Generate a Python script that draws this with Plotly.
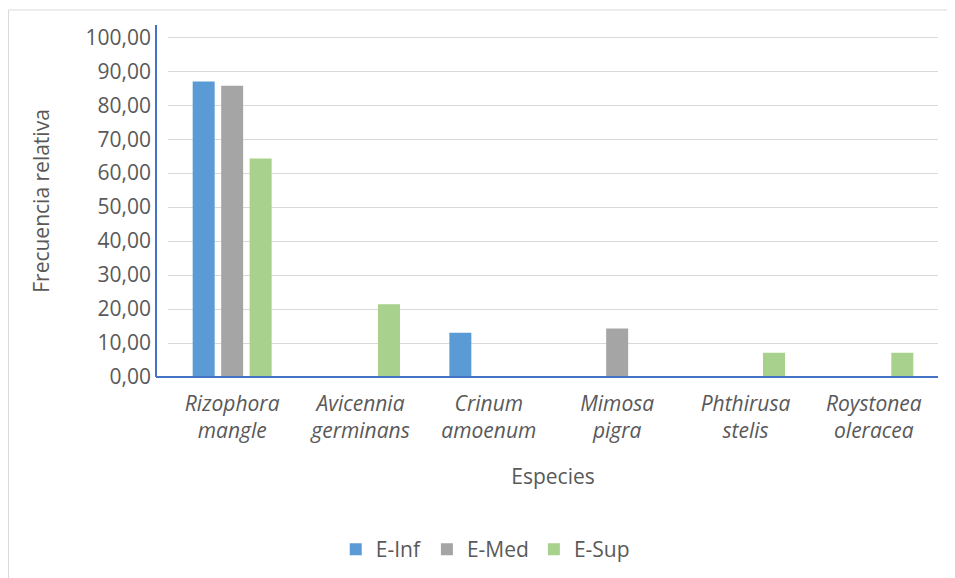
import plotly.graph_objects as go

species = ["Rizophora mangle", "Avicennia germinans", "Crinum amoenum",
           "Mimosa pigra", "Phthirusa stelis", "Roystonea oleracea"]
e_inf = [86.96, 0, 13.04, 0, 0, 0]
e_med = [85.71, 0, 0, 14.29, 0, 0]
e_sup = [64.29, 21.43, 0, 0, 7.14, 7.14]
y_ticks = [0, 10, 20, 30, 40, 50, 60, 70, 80, 90, 100]

labels = ["<i>" + s.replace(" ", "<br>") + "</i>" for s in species]

fig = go.Figure()
for name, vals, color in [("E-Inf", e_inf, "#5B9BD5"),
                          ("E-Med", e_med, "#A5A5A5"),
                          ("E-Sup", e_sup, "#A9D18E")]:
    fig.add_trace(go.Bar(x=labels, y=vals, name=name, marker_color=color,
                         marker_line_width=0))

font = "Open Sans, Calibri, sans-serif"
grey = "#595959"
axis_blue = "#4472C4"
off = -12 / 770  # axis lines sit a little left of the gridlines
# page body has an 8px margin, so the figure is sized to fit the window
fig.update_layout(
    width=947, height=570,
    barmode="group", bargap=0.334, bargroupgap=0.228,
    separators=",.",
    plot_bgcolor="white", paper_bgcolor="white",
    font=dict(family=font, color=grey, size=21),
    margin=dict(l=160, r=17, t=17, b=201, autoexpand=False),
    legend=dict(orientation="h", x=0.412, xanchor="center", y=-0.49, yanchor="middle",
                font=dict(size=21, color=grey), traceorder="normal",
                itemwidth=30),
    xaxis=dict(
        showline=False, ticks="", ticklabelstandoff=12,
        tickfont=dict(size=21, color=grey),
        title=dict(text="Especies", font=dict(size=21, color=grey), standoff=26),
    ),
    yaxis=dict(
        range=[0, 103.6], tickvals=y_ticks, tickformat=".2f",
        showline=False, ticklabelstandoff=16,
        showgrid=True, gridcolor="#D9D9D9", gridwidth=1, zeroline=False,
        tickfont=dict(size=21, color=grey), ticks="",
        title=dict(text="Frecuencia relativa", font=dict(size=21, color=grey), standoff=30),
    ),
    shapes=[
        dict(type="rect", xref="paper", yref="paper",
             x0=-0.2071, x1=1.1, y0=-0.7, y1=1.0426,
             line=dict(color="#D9D9D9", width=1), fillcolor="rgba(0,0,0,0)",
             layer="below"),
        dict(type="line", xref="paper", yref="paper", x0=off, x1=off, y0=0, y1=1,
             line=dict(color=axis_blue, width=2)),
        dict(type="line", xref="paper", yref="paper", x0=off, x1=1, y0=0, y1=0,
             line=dict(color=axis_blue, width=2)),
    ],
)

fig.write_html("out.html")
